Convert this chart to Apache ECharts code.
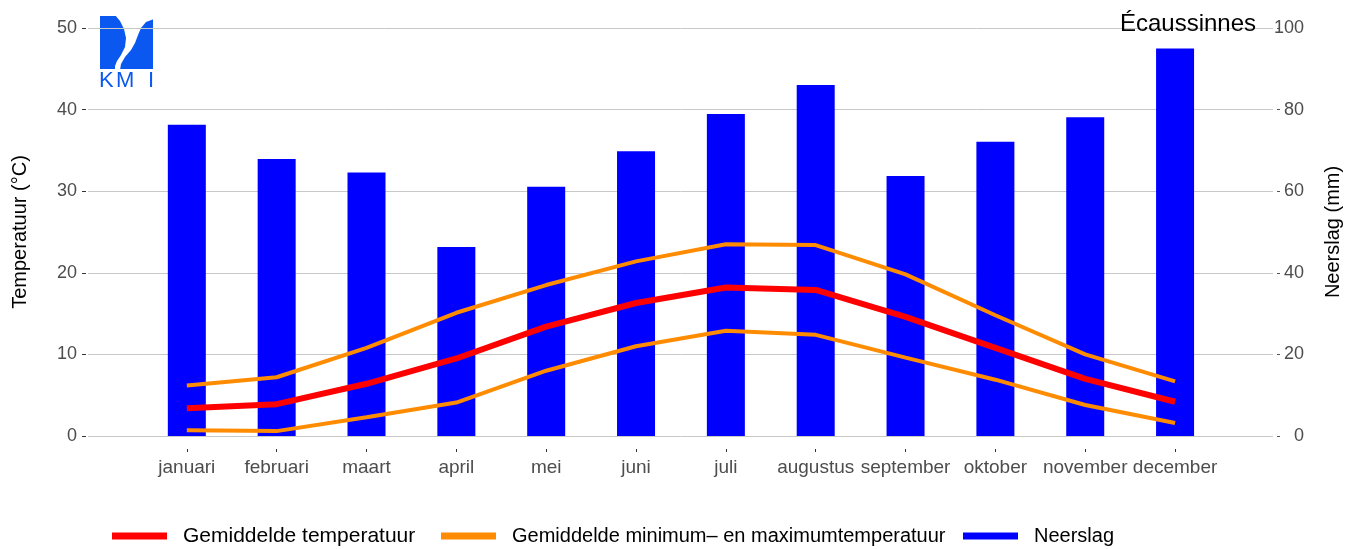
<!DOCTYPE html>
<html>
<head>
<meta charset="utf-8">
<script src="https://cdn.jsdelivr.net/npm/echarts@6/dist/echarts.min.js"></script>
<style>
  html, body { margin: 0; padding: 0; background: #fff; }
  #klimaat { width: 1357px; height: 549px; }
</style>
</head>
<body>
<div id="klimaat"></div>
<script>
// klimaatgrafiek Écaussinnes
const maanden = ['januari', 'februari', 'maart', 'april', 'mei', 'juni', 'juli',
  'augustus', 'september', 'oktober', 'november', 'december'];
const neerslag = [76.3, 67.9, 64.6, 46.3, 61.1, 69.8, 78.9, 86.0, 63.7, 72.1, 78.1, 95.0];
const tempGem = [3.4, 3.9, 6.4, 9.5, 13.4, 16.3, 18.2, 17.9, 14.6, 10.8, 7.0, 4.2];
const tempMax = [6.2, 7.2, 10.8, 15.1, 18.5, 21.4, 23.5, 23.4, 19.8, 14.8, 10.0, 6.7];
const tempMin = [0.7, 0.6, 2.3, 4.1, 8.0, 11.0, 12.9, 12.4, 9.6, 6.9, 3.8, 1.6];
const tempTicks = [0, 10, 20, 30, 40, 50];
const mmTicks = [0, 20, 40, 60, 80, 100];

const FONT = '"Liberation Sans", Arial, sans-serif';
const NAAM_GEM = 'Gemiddelde temperatuur';
const NAAM_MINMAX = 'Gemiddelde minimum– en maximumtemperatuur';
const NAAM_NEERSLAG = 'Neerslag';

const idx = maanden.map((m, i) => i);
const paar = arr => arr.map((v, i) => [i, v]);

const myChart = echarts.init(document.getElementById('klimaat'));

const legendBase = {
  top: 524,
  padding: 0,
  itemWidth: 55,
  itemHeight: 7,
  selectedMode: false,
  textStyle: { fontFamily: FONT, fontSize: 20, lineHeight: 24, color: '#000', padding: [0, 0, 0, 11] },
};

const option = {
  animation: false,
  textStyle: { fontFamily: FONT },
  title: {
    text: 'Écaussinnes',
    right: 96,
    top: 7,
    textStyle: { fontFamily: FONT, fontSize: 24, fontWeight: 'normal', color: '#000' },
  },
  grid: { left: 88, right: 84, top: 28, bottom: 113 },
  legend: [
    Object.assign({}, legendBase, { left: 112, data: [{ name: NAAM_GEM, icon: 'rect' }],
      textStyle: Object.assign({}, legendBase.textStyle, { fontSize: 21 }) }),
    Object.assign({}, legendBase, { left: 441, data: [{ name: NAAM_MINMAX, icon: 'rect' }] }),
    Object.assign({}, legendBase, { left: 963, data: [{ name: NAAM_NEERSLAG, icon: 'rect' }] }),
  ],
  xAxis: {
    type: 'value',
    min: -1.1,
    max: 12.09,
    offset: 13,
    axisLine: { show: false, onZero: false },
    axisTick: { show: true, length: 3, customValues: idx, lineStyle: { color: '#333' } },
    axisLabel: {
      customValues: idx,
      formatter: v => maanden[Math.round(v)],
      fontSize: 19,
      color: '#4d4d4d',
      margin: 9,
    },
    splitLine: { show: false },
  },
  yAxis: [
    {
      type: 'value',
      min: tempTicks[0],
      max: tempTicks[tempTicks.length - 1],
      interval: 10,
      offset: 2,
      name: 'Temperatuur (°C)',
      nameLocation: 'middle',
      nameGap: 56,
      nameTextStyle: { fontFamily: FONT, fontSize: 20, color: '#000' },
      axisLine: { show: false, onZero: false },
      axisTick: { show: true, length: 4, lineStyle: { color: '#333' } },
      axisLabel: { fontSize: 18, color: '#4d4d4d', margin: 9 },
      splitLine: { show: true, lineStyle: { color: '#c8c8c8', width: 1 } },
    },
    {
      type: 'value',
      position: 'right',
      min: mmTicks[0],
      max: mmTicks[mmTicks.length - 1],
      interval: 20,
      offset: 4,
      name: 'Neerslag (mm)',
      nameLocation: 'middle',
      nameGap: 46,
      nameTextStyle: { fontFamily: FONT, fontSize: 20, color: '#000' },
      axisLine: { show: false, onZero: false },
      axisTick: { show: true, length: 3, lineStyle: { color: '#555' } },
      axisLabel: { fontSize: 18, color: '#4d4d4d', margin: 27, align: 'right' },
      splitLine: { show: false },
    },
  ],
  series: [
    {
      name: NAAM_NEERSLAG,
      type: 'bar',
      yAxisIndex: 1,
      barWidth: 38,
      itemStyle: { color: '#0000ff' },
      data: paar(neerslag),
      z: 1,
    },
    {
      name: NAAM_MINMAX,
      type: 'line',
      showSymbol: false,
      lineStyle: { color: '#ff8c00', width: 4 },
      itemStyle: { color: '#ff8c00' },
      data: paar(tempMax),
      z: 3,
    },
    {
      name: NAAM_MINMAX,
      type: 'line',
      showSymbol: false,
      lineStyle: { color: '#ff8c00', width: 4 },
      itemStyle: { color: '#ff8c00' },
      data: paar(tempMin),
      z: 3,
    },
    {
      name: NAAM_GEM,
      type: 'line',
      showSymbol: false,
      lineStyle: { color: '#ff0000', width: 6 },
      itemStyle: { color: '#ff0000' },
      data: paar(tempGem),
      z: 4,
    },
  ],
  // KMI logo
  graphic: [
    { type: 'rect', shape: { x: 100, y: 16, width: 53, height: 53 }, style: { fill: '#0a58f0' } },
    {
      type: 'polygon',
      shape: {
        points: [[115, 15], [120, 21], [124, 29], [126, 38], [125, 47], [121, 55], [117, 61],
          [115, 66], [115, 70], [120, 70], [121, 64], [125, 57], [131, 50], [135, 43],
          [138, 35], [141, 28], [146, 22], [154, 19], [154, 15]],
      },
      style: { fill: '#fff' },
    },
    { type: 'text', left: 99, top: 70, style: { text: 'K', font: '22px ' + FONT, fill: '#0a58f0' } },
    { type: 'text', left: 116, top: 70, style: { text: 'M', font: '22px ' + FONT, fill: '#0a58f0' } },
    { type: 'text', left: 148, top: 70, style: { text: 'I', font: '22px ' + FONT, fill: '#0a58f0' } },
  ],
};

myChart.setOption(option);
window.addEventListener('resize', myChart.resize);
</script>
</body>
</html>
